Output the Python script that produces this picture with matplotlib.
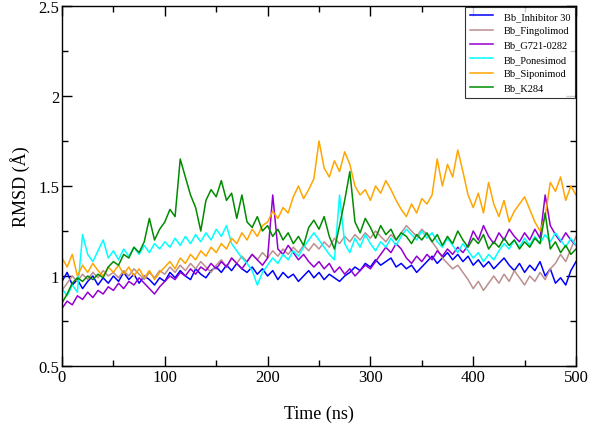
import numpy as np
import matplotlib
matplotlib.use("Agg")
import matplotlib.pyplot as plt
from matplotlib.ticker import MultipleLocator, FuncFormatter

time_ns = np.arange(0, 501, 5)

inhibitor30 = [
    0.97,1.02,0.95,0.98,0.93,0.97,1.00,0.95,0.99,0.96,
    1.00,0.97,1.02,0.98,1.01,0.96,1.00,0.98,0.95,0.99,
    0.97,1.02,0.99,1.03,1.00,0.98,1.04,1.01,0.99,1.03,
    1.05,1.02,1.06,1.03,1.07,1.04,1.02,1.05,1.01,1.04,
    1.00,1.03,0.98,1.02,0.99,1.01,0.97,1.00,1.03,0.99,
    1.02,0.98,1.01,0.99,0.97,1.00,1.02,1.05,1.03,1.07,
    1.05,1.09,1.06,1.08,1.10,1.05,1.07,1.04,1.06,1.02,
    1.05,1.08,1.11,1.07,1.10,1.13,1.09,1.12,1.08,1.11,
    1.06,1.09,1.05,1.08,1.04,1.07,1.10,1.06,1.03,1.07,
    1.02,1.06,1.03,1.08,1.00,1.04,0.96,0.99,0.95,1.03,
    1.08]

fingolimod = [
    0.92,0.96,1.00,0.97,1.01,0.98,1.02,0.99,1.03,1.00,
    1.02,0.99,1.03,1.00,1.04,1.01,0.98,1.02,0.99,1.03,
    1.01,1.05,1.02,1.06,1.03,1.07,1.04,1.08,1.05,1.02,
    1.06,1.09,1.05,1.10,1.07,1.11,1.08,1.12,1.09,1.13,
    1.10,1.14,1.11,1.15,1.12,1.16,1.13,1.17,1.14,1.18,
    1.15,1.19,1.16,1.21,1.18,1.22,1.19,1.23,1.20,1.24,
    1.21,1.25,1.22,1.19,1.23,1.20,1.24,1.28,1.25,1.22,
    1.26,1.23,1.19,1.15,1.10,1.07,1.04,1.06,1.02,0.98,
    0.93,0.97,0.92,0.96,1.00,0.96,1.01,0.97,1.03,0.99,
    0.95,1.00,0.97,1.02,0.98,1.04,1.07,1.12,1.08,1.15,
    1.22]

g721_0282 = [
    0.82,0.86,0.84,0.89,0.87,0.91,0.88,0.92,0.90,0.94,
    0.92,0.96,0.93,0.97,0.95,0.99,0.96,0.93,0.90,0.94,
    0.97,1.00,0.98,1.02,1.00,1.04,1.01,1.05,1.03,1.07,
    1.04,1.08,1.05,1.10,1.07,1.04,1.08,1.12,1.09,1.06,
    1.10,1.45,1.15,1.12,1.17,1.13,1.09,1.12,1.08,1.05,
    1.08,1.04,1.07,1.02,1.05,1.01,1.04,1.00,1.03,1.06,
    1.04,1.08,1.12,1.16,1.13,1.18,1.15,1.10,1.07,1.11,
    1.08,1.12,1.09,1.14,1.11,1.15,1.12,1.16,1.13,1.17,
    1.25,1.20,1.28,1.22,1.18,1.24,1.20,1.26,1.22,1.19,
    1.24,1.20,1.26,1.21,1.45,1.28,1.23,1.19,1.24,1.20,
    1.17]

ponesimod = [
    0.93,0.89,0.95,0.91,1.23,1.12,1.08,1.14,1.20,1.10,
    1.14,1.09,1.15,1.11,1.16,1.12,1.17,1.13,1.18,1.15,
    1.19,1.16,1.21,1.17,1.22,1.18,1.23,1.19,1.24,1.20,
    1.26,1.22,1.28,1.18,1.14,1.10,1.07,1.03,0.95,1.02,
    1.06,1.10,1.07,1.12,1.09,1.14,1.11,1.16,1.20,1.24,
    1.20,1.16,1.12,1.09,1.45,1.18,1.13,1.21,1.16,1.23,
    1.18,1.14,1.19,1.16,1.21,1.17,1.22,1.26,1.23,1.20,
    1.25,1.21,1.24,1.19,1.16,1.21,1.17,1.13,1.18,1.14,
    1.10,1.13,1.08,1.12,1.09,1.14,1.18,1.15,1.20,1.16,
    1.21,1.17,1.22,1.18,1.23,1.19,1.24,1.20,1.16,1.21,
    1.17]

siponimod = [
    1.10,1.05,1.12,1.00,1.06,1.02,1.07,1.03,1.00,1.05,
    1.02,1.06,1.01,1.05,1.00,1.04,0.99,1.03,0.98,1.02,
    1.05,1.08,1.04,1.10,1.07,1.12,1.09,1.14,1.11,1.16,
    1.13,1.18,1.15,1.21,1.18,1.24,1.20,1.26,1.22,1.28,
    1.30,1.36,1.32,1.38,1.35,1.44,1.50,1.43,1.48,1.54,
    1.75,1.60,1.55,1.64,1.58,1.69,1.62,1.50,1.45,1.48,
    1.42,1.50,1.46,1.53,1.48,1.42,1.37,1.33,1.40,1.35,
    1.43,1.40,1.45,1.65,1.50,1.62,1.55,1.70,1.58,1.45,
    1.38,1.46,1.35,1.52,1.40,1.33,1.42,1.30,1.36,1.40,
    1.44,1.37,1.30,1.25,1.33,1.52,1.47,1.55,1.42,1.50,
    1.45]

k284 = [
    0.85,0.90,0.96,0.99,0.97,1.00,0.98,1.01,0.99,1.05,
    1.08,1.06,1.12,1.10,1.16,1.13,1.19,1.32,1.20,1.26,
    1.30,1.37,1.33,1.65,1.55,1.45,1.38,1.25,1.42,1.48,
    1.44,1.53,1.42,1.46,1.32,1.45,1.30,1.27,1.33,1.25,
    1.28,1.22,1.26,1.20,1.24,1.18,1.22,1.17,1.27,1.31,
    1.26,1.33,1.22,1.15,1.28,1.42,1.58,1.30,1.24,1.32,
    1.27,1.21,1.28,1.23,1.26,1.20,1.24,1.22,1.18,1.23,
    1.20,1.24,1.19,1.23,1.17,1.22,1.18,1.25,1.20,1.16,
    1.21,1.18,1.23,1.15,1.19,1.16,1.21,1.17,1.20,1.15,
    1.19,1.16,1.21,1.18,1.35,1.15,1.19,1.13,1.17,1.12,
    1.15]

series_names = ["Bb_Inhibitor 30", "Bb_Fingolimod", "Bb_G721-0282",
                "Bb_Ponesimod", "Bb_Siponimod", "Bb_K284"]
series_values = [inhibitor30, fingolimod, g721_0282, ponesimod, siponimod, k284]
series_colors = ["#0000ff", "#bc8f8f", "#9400d3", "#00ffff", "#ffa500", "#008b00"]

plt.rcParams['font.family'] = ['Liberation Serif', 'DejaVu Serif']

fig = plt.figure(figsize=(5.92, 4.27), dpi=100)
ax = fig.add_axes([62/592, 1-367/427, (576-62)/592, (367-7)/427])

for name, vals, col in zip(series_names, series_values, series_colors):
    ax.plot(time_ns, vals, color=col, lw=1.1, label=name)

ax.set_xlim(0, 500)
ax.set_ylim(0.5, 2.5)
ax.xaxis.set_major_locator(MultipleLocator(100))
ax.xaxis.set_minor_locator(MultipleLocator(50))
ax.yaxis.set_major_locator(MultipleLocator(0.5))
ax.yaxis.set_minor_locator(MultipleLocator(0.25))
ax.yaxis.set_major_formatter(FuncFormatter(lambda v, p: "%g" % v))
ax.tick_params(which='both', direction='in', top=True, right=True, width=1.0)
ax.tick_params(which='major', length=7, labelsize=12, pad=2)
ax.tick_params(which='minor', length=4)
for s in ax.spines.values():
    s.set_linewidth(1.0)

ax.set_xlabel("Time (ns)", fontsize=13, labelpad=14)
ax.set_ylabel("RMSD (Å)", fontsize=13, labelpad=6)

leg = ax.legend(loc='upper right', fontsize=7.5, frameon=True, fancybox=False,
                borderaxespad=0.05, handlelength=2.2, labelspacing=0.48,
                handletextpad=1.0, borderpad=0.5)
leg.get_frame().set_edgecolor('black')
leg.get_frame().set_linewidth(0.8)

fig.savefig("out.png", dpi=100)
